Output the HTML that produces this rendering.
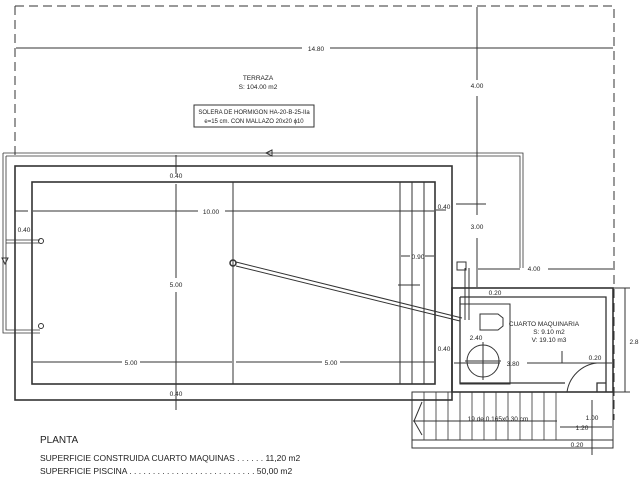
<!DOCTYPE html>
<html><head><meta charset="utf-8"><style>
html,body{margin:0;padding:0;background:#fff;width:640px;height:480px;overflow:hidden}
text{font-family:"Liberation Sans",sans-serif;fill:#222}
</style></head><body>
<svg width="640" height="480" viewBox="0 0 640 480" xmlns="http://www.w3.org/2000/svg">
<g fill="none" stroke="#333" stroke-width="1">
<!-- dashed terrace -->
<path d="M15 6 H614 V400 M15 6 V160" stroke-dasharray="9,5"/>
<path d="M614 400 V420" stroke-dasharray="9,5"/>
<!-- 14.80 dim -->
<line x1="16" y1="48" x2="302" y2="48"/><line x1="330" y1="48" x2="613" y2="48"/>
<!-- 4.00 vertical -->
<line x1="477" y1="7" x2="477" y2="80"/><line x1="477" y1="96" x2="477" y2="215"/><line x1="477" y1="238" x2="477" y2="287"/>
<line x1="456" y1="204" x2="486" y2="204"/>
<!-- note box -->
<rect x="194" y="105" width="120" height="22"/>
<!-- pipe loop -->
<path d="M3 153 H523 V268 M6 156 H520 V268" stroke-width="0.8"/>
<path d="M3 153 V333 H40 M6 156 V330 H40" stroke-width="0.8"/>
<path d="M6 240 H40 M6 243 H40" stroke-width="0.8"/>
<path d="M272 150 L266 153 L272 156 Z"/>
<path d="M2 258 L5 264 L8 258 Z"/>
<!-- slab -->
<rect x="15" y="166" width="437" height="234" stroke-width="1.6"/>
<!-- pool -->
<rect x="32" y="182" width="403" height="202" stroke-width="1.6"/>
<line x1="233" y1="182" x2="233" y2="384"/>
<line x1="400" y1="182" x2="400" y2="384"/><line x1="412" y1="182" x2="412" y2="384"/><line x1="424" y1="182" x2="424" y2="384"/>
<!-- dims in pool -->
<line x1="176" y1="155" x2="176" y2="174"/><line x1="176" y1="184" x2="176" y2="278"/><line x1="176" y1="292" x2="176" y2="410"/>
<line x1="33" y1="211" x2="198" y2="211"/><line x1="225" y1="211" x2="434" y2="211"/>
<line x1="15" y1="211" x2="28" y2="211"/><line x1="436" y1="210" x2="446" y2="210"/>
<line x1="33" y1="362" x2="122" y2="362"/><line x1="140" y1="362" x2="232" y2="362"/>
<line x1="236" y1="362" x2="322" y2="362"/><line x1="340" y1="362" x2="434" y2="362"/>
<line x1="401" y1="256" x2="410" y2="256"/><line x1="425" y1="256" x2="434" y2="256"/>
<line x1="398" y1="285" x2="420" y2="285"/>
<!-- inlets -->
<circle cx="41" cy="241" r="2.5"/><circle cx="41" cy="326" r="2.5"/>
<circle cx="233" cy="263" r="3" stroke-width="1.5"/>
<path d="M236 262 L462 318 M236 266 L460 321"/>
<!-- machine room -->
<rect x="452" y="288" width="161" height="104" stroke-width="1.6"/>
<path d="M460 297 H606 V392 M460 297 V383 H565 M597 392 V383 H606" stroke-width="1.3"/>
<rect x="460" y="304" width="50" height="80"/>
<circle cx="483" cy="361" r="16"/>
<line x1="483" y1="342" x2="483" y2="380"/><line x1="465" y1="361" x2="501" y2="361"/>
<path d="M480 314 H498 L503 318 V326 L498 330 H480 Z"/>
<path d="M465 268 V320 M469 268 V320 M457 262 H466 V270 H457 Z"/>
<path d="M597 363 A34 34 0 0 0 567 392"/>
<line x1="562" y1="351" x2="562" y2="363"/>
<line x1="454" y1="363" x2="500" y2="363"/><line x1="527" y1="363" x2="612" y2="363"/>
<line x1="478" y1="269" x2="520" y2="269"/><line x1="548" y1="269" x2="613" y2="269"/>
<line x1="613" y1="288" x2="630" y2="288"/><line x1="613" y1="392" x2="630" y2="392"/><line x1="625" y1="288" x2="625" y2="392"/>
<!-- stairs -->
<rect x="412" y="392" width="201" height="56"/>
<path d="M412 392 V440 H613"/>
<g stroke-width="0.8">
<path d="M424 392 V440 M436 392 V440 M448 392 V440 M460 392 V440 M472 392 V440 M484 392 V440 M496 392 V440 M508 392 V440 M520 392 V440 M532 392 V440 M544 392 V440 M556 392 V440"/>
</g>
<line x1="413" y1="421" x2="557" y2="421"/>
<path d="M422 402 L414 421 L422 435"/>
<line x1="592" y1="400" x2="592" y2="445"/><line x1="560" y1="427" x2="612" y2="427"/>
<line x1="592" y1="445" x2="592" y2="455"/>
</g>
<g font-size="6.5" text-anchor="middle">
<text x="316" y="51">14.80</text>
<text x="258" y="80">TERRAZA</text>
<text x="258" y="89">S: 104.00 m2</text>
<text x="254" y="114" font-size="6">SOLERA DE HORMIGON HA-20-B-25-IIa</text>
<text x="254" y="123" font-size="6">e=15 cm. CON MALLAZO 20x20 ϕ10</text>
<text x="477" y="88">4.00</text>
<text x="176" y="178">0.40</text>
<text x="211" y="214">10.00</text>
<text x="176" y="287">5.00</text>
<text x="131" y="365">5.00</text>
<text x="331" y="365">5.00</text>
<text x="176" y="396">0.40</text>
<text x="24" y="232">0.40</text>
<text x="444" y="209">0.40</text>
<text x="477" y="229">3.00</text>
<text x="418" y="259">0.90</text>
<text x="534" y="271">4.00</text>
<text x="495" y="295">0.20</text>
<text x="544" y="326">CUARTO MAQUINARIA</text>
<text x="549" y="334">S: 9.10 m2</text>
<text x="549" y="342">V: 19.10 m3</text>
<text x="476" y="340">2.40</text>
<text x="444" y="351">0.40</text>
<text x="513" y="366">3.80</text>
<text x="595" y="360">0.20</text>
<text x="634" y="344">2.8</text>
<text x="498" y="421">19 de 0.165x0.30 cm</text>
<text x="592" y="420">1.00</text>
<text x="582" y="430">1.20</text>
<text x="577" y="447">0.20</text>
</g>
<g font-size="10" fill="#222">
<text x="40" y="443">PLANTA</text>
<text x="40" y="461" font-size="8.5">SUPERFICIE CONSTRUIDA CUARTO MAQUINAS . . . . . . 11,20 m2</text>
<text x="40" y="474" font-size="8.5">SUPERFICIE PISCINA . . . . . . . . . . . . . . . . . . . . . . . . . . . 50,00 m2</text>
</g>
</svg>
</body></html>
